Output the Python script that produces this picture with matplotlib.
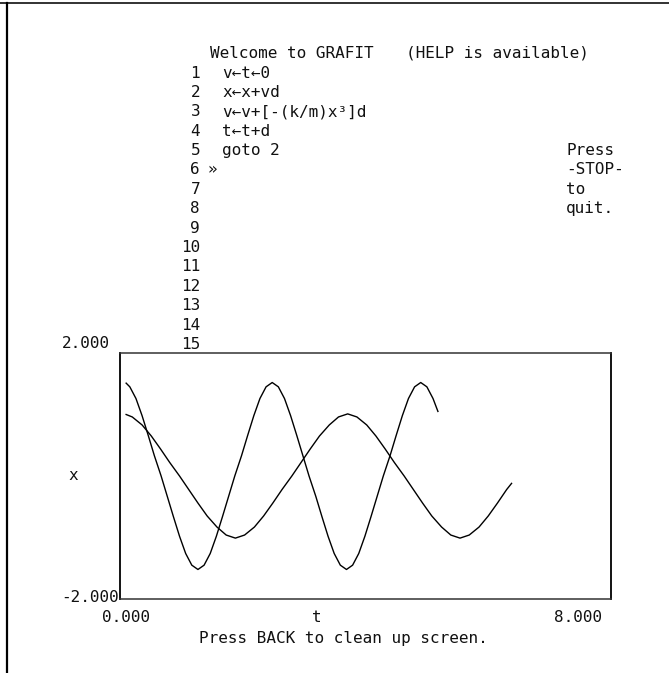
import matplotlib.pyplot as plt
from matplotlib.lines import Line2D

# --- data ---------------------------------------------------------------
# fast curve (larger amplitude)
t_fast = [0.10, 0.16, 0.26, 0.36, 0.46, 0.56, 0.67, 0.77, 0.87, 0.97, 1.07,
          1.17, 1.27, 1.37, 1.47, 1.57, 1.67, 1.77, 1.87, 1.98, 2.08, 2.18,
          2.28, 2.38, 2.48, 2.58, 2.68, 2.78, 2.88, 2.98, 3.08, 3.19, 3.29,
          3.39, 3.49, 3.59, 3.69, 3.79, 3.89, 3.99, 4.09, 4.19, 4.29, 4.40,
          4.50, 4.60, 4.70, 4.80, 4.90, 5.00, 5.10, 5.18]
x_fast = [1.51, 1.45, 1.26, 0.98, 0.66, 0.33, 0.00, -0.33, -0.66, -0.98, -1.26,
          -1.45, -1.52, -1.45, -1.26, -0.98, -0.66, -0.33, 0.00, 0.33, 0.66, 0.98,
          1.26, 1.45, 1.52, 1.45, 1.26, 0.98, 0.66, 0.33, 0.00, -0.33, -0.66,
          -0.98, -1.26, -1.45, -1.52, -1.45, -1.26, -0.98, -0.66, -0.33, 0.00, 0.33,
          0.66, 0.98, 1.26, 1.45, 1.52, 1.45, 1.26, 1.05]

# slow curve (smaller amplitude)
t_slow = [0.10, 0.20, 0.36, 0.51, 0.66, 0.81, 0.97, 1.12, 1.27, 1.42, 1.58,
          1.73, 1.88, 2.03, 2.19, 2.34, 2.49, 2.64, 2.80, 2.95, 3.10, 3.25,
          3.41, 3.56, 3.71, 3.86, 4.02, 4.17, 4.32, 4.47, 4.63, 4.78, 4.93,
          5.08, 5.24, 5.39, 5.54, 5.69, 5.85, 6.00, 6.15, 6.30, 6.38]
x_slow = [1.00, 0.96, 0.83, 0.65, 0.44, 0.22, 0.00, -0.22, -0.44, -0.65, -0.83,
          -0.96, -1.01, -0.96, -0.83, -0.65, -0.44, -0.22, 0.00, 0.22, 0.44, 0.65,
          0.83, 0.96, 1.01, 0.96, 0.83, 0.65, 0.44, 0.22, 0.00, -0.22, -0.44,
          -0.65, -0.83, -0.96, -1.01, -0.96, -0.83, -0.65, -0.44, -0.22, -0.12]

line_numbers = [str(n) for n in range(1, 16)]
program = ["v←t←0", "x←x+vd", "v←v+[-(k/m)x³]d", "t←t+d", "goto 2"]
side_note = ["Press", "-STOP-", "to", "quit."]

W, H = 669, 673
FONT = "DejaVu Sans Mono"
FS = 11.5


def put(x, y, s, **kw):
    # place text at pixel position of the screen
    kw.setdefault("ha", "left")
    fig.text(x / W, 1 - y / H, s, family=FONT, fontsize=FS, va="center",
             color="#111111", **kw)


fig = plt.figure(figsize=(W / 100, H / 100), dpi=100)

# outer screen frame (top and left edge only)
fig.add_artist(Line2D([0, 1], [1 - 3 / H, 1 - 3 / H], transform=fig.transFigure,
                      color="#222222", lw=1.3))
fig.add_artist(Line2D([7 / W, 7 / W], [0, 1 - 3 / H], transform=fig.transFigure,
                      color="black", lw=1.6))

# header and program listing
put(210, 53, "Welcome to GRAFIT")
put(406, 53, "(HELP is available)")
for i, num in enumerate(line_numbers):
    y = 73 + i * 19.4
    put(200, y, num, ha="right")
    if i < len(program):
        put(222, y, program[i])
put(208, 73 + 5 * 19.4, "»")
for i, word in enumerate(side_note):
    put(566, 73 + (4 + i) * 19.4, word)

# graph window
ax = fig.add_axes([120 / W, 1 - 599 / H, (611 - 120) / W, (599 - 353) / H])
ax.plot(t_fast, x_fast, color="black", lw=1.0)
ax.plot(t_slow, x_slow, color="black", lw=1.0)
ax.set_xlim(0, 8)
ax.set_ylim(-2, 2)
ax.set_xticks([])
ax.set_yticks([])
for side in ["left", "right"]:
    ax.spines[side].set_linewidth(1.3)
for side in ["top", "bottom"]:
    ax.spines[side].set_linewidth(1.1)
    ax.spines[side].set_color("#333333")

put(110, 344, "2.000", ha="right")
put(119, 598, "-2.000", ha="right")
put(68, 476, "x")
put(102, 618, "0.000")
put(312, 618, "t")
put(602, 618, "8.000", ha="right")
put(199, 638, "Press BACK to clean up screen.")

plt.savefig("out.png", dpi=100)
